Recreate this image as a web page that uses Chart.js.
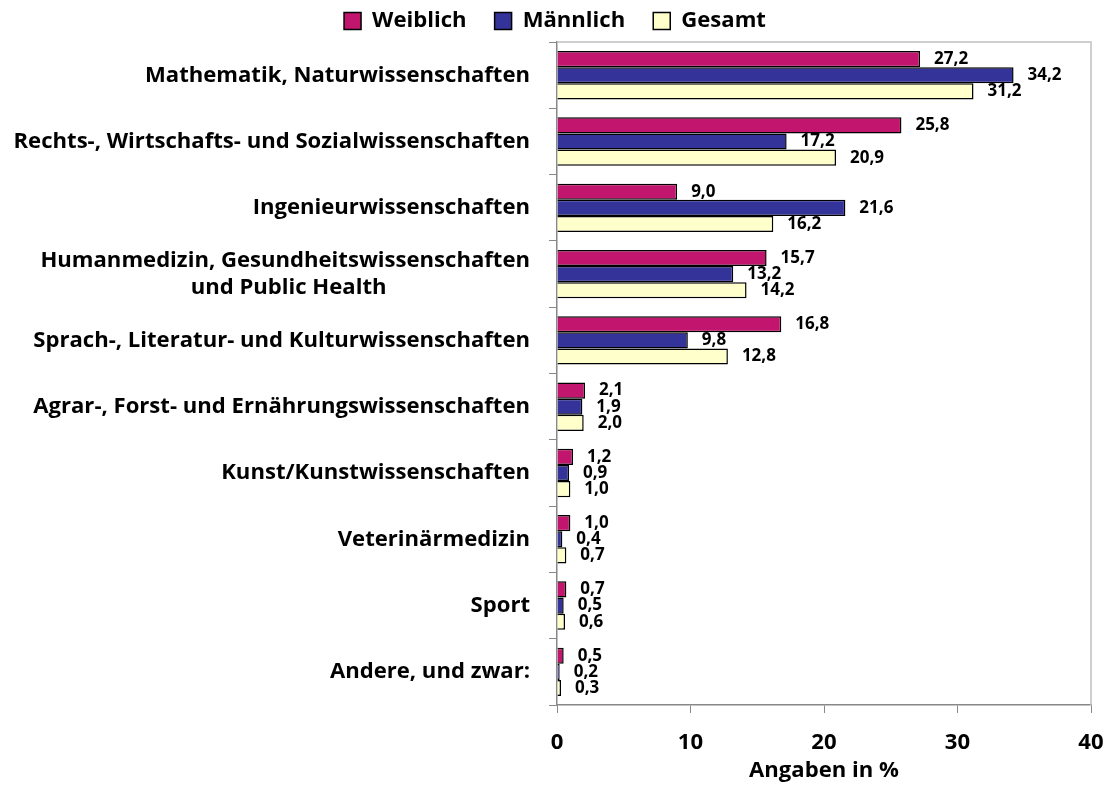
<!DOCTYPE html>
<html>
<head>
<meta charset="utf-8">
<script src="https://cdn.jsdelivr.net/npm/chart.js@4.4.0/dist/chart.umd.min.js"></script>
<style>
  body { margin: 0; background: #fff; }
  #wrap { width: 1110px; height: 785px; }
</style>
</head>
<body>
<div id="wrap"><canvas id="studien-chart" width="1110" height="785"></canvas></div>
<script>
const fontFamily = '"Open Sans"';

const categories = [
  'Mathematik, Naturwissenschaften',
  'Rechts-, Wirtschafts- und Sozialwissenschaften',
  'Ingenieurwissenschaften',
  ['Humanmedizin, Gesundheitswissenschaften', 'und Public Health'],
  'Sprach-, Literatur- und Kulturwissenschaften',
  'Agrar-, Forst- und Ernährungswissenschaften',
  'Kunst/Kunstwissenschaften',
  'Veterinärmedizin',
  'Sport',
  'Andere, und zwar:'
];
const weiblich = [27.2, 25.8, 9.0, 15.7, 16.8, 2.1, 1.2, 1.0, 0.7, 0.5];
const maennlich = [34.2, 17.2, 21.6, 13.2, 9.8, 1.9, 0.9, 0.4, 0.5, 0.2];
const gesamt = [31.2, 20.9, 16.2, 14.2, 12.8, 2.0, 1.0, 0.7, 0.6, 0.3];
const xTicks = [0, 10, 20, 30, 40];

// pick a font size so the longest category label is about as wide as in the original
const measureCtx = document.createElement('canvas').getContext('2d');
measureCtx.font = 'bold 20px ' + fontFamily;
const longW = measureCtx.measureText(categories[1]).width;
const fs = Math.round(20 * 517 / longW * 10) / 10;
measureCtx.font = 'bold ' + fs + 'px ' + fontFamily;

// center the second line of a two-line label under the first one
const labels = categories.map(function (c) {
  if (!Array.isArray(c)) return c;
  const w1 = measureCtx.measureText(c[0]).width;
  const target = w1 - (w1 - measureCtx.measureText(c[1]).width) / 2;
  let second = c[1];
  while (measureCtx.measureText(second + ' ').width <= target) {
    second += ' ';
  }
  return [c[0], second];
});

const valueLabels = {
  id: 'valueLabels',
  afterDatasetsDraw(chart) {
    const ctx = chart.ctx;
    ctx.save();
    ctx.font = 'bold 17px ' + fontFamily;
    ctx.fillStyle = '#000';
    ctx.textAlign = 'left';
    ctx.textBaseline = 'middle';
    chart.data.datasets.forEach(function (ds, i) {
      chart.getDatasetMeta(i).data.forEach(function (bar, j) {
        ctx.fillText(ds.data[j].toFixed(1).replace('.', ','), bar.x + 14, bar.y);
      });
    });
    ctx.restore();
  }
};

const plotFrame = {
  id: 'plotFrame',
  beforeDatasetsDraw(chart) {
    const a = chart.chartArea;
    const ctx = chart.ctx;
    ctx.save();
    ctx.strokeStyle = '#c0c0c0';
    ctx.lineWidth = 1.5;
    ctx.beginPath();
    ctx.moveTo(a.left, a.top);
    ctx.lineTo(a.right, a.top);
    ctx.lineTo(a.right, a.bottom);
    ctx.stroke();
    ctx.restore();
  }
};

const data = {
  labels: labels,
  datasets: [{
    label: 'Weiblich',
    data: weiblich,
    backgroundColor: '#c2166e',
    borderColor: '#000',
    borderWidth: 1.5
  }, {
    label: 'Männlich',
    data: maennlich,
    backgroundColor: '#333399',
    borderColor: '#000',
    borderWidth: 1.5
  }, {
    label: 'Gesamt',
    data: gesamt,
    backgroundColor: '#ffffcc',
    borderColor: '#000',
    borderWidth: 1.5
  }]
};

const config = {
  type: 'bar',
  data: data,
  plugins: [plotFrame, valueLabels],
  options: {
    indexAxis: 'y',
    responsive: false,
    animation: false,
    categoryPercentage: 0.73,
    barPercentage: 1,
    layout: { padding: { left: 0, right: 0, top: -18, bottom: 0 } },
    plugins: {
      tooltip: { enabled: false },
      legend: {
        position: 'top',
        labels: {
          color: '#000',
          font: { family: fontFamily, size: fs, weight: 'bold' },
          boxWidth: 17,
          boxHeight: 17,
          padding: 28
        }
      }
    },
    scales: {
      x: {
        min: 0,
        max: 40,
        afterBuildTicks(scale) { scale.ticks = xTicks.map(v => ({ value: v })); },
        afterFit(scale) {
          scale.height = 80;
          scale.paddingLeft = 0;
          scale.paddingRight = 19;
        },
        grid: { drawOnChartArea: false, drawTicks: true, tickLength: 8, color: '#888' },
        border: { color: '#888', width: 1.5 },
        ticks: { color: '#000', padding: 16, font: { family: fontFamily, size: fs, weight: 'bold' } },
        title: {
          display: true,
          text: 'Angaben in %',
          color: '#000',
          padding: { top: 0, bottom: 1 },
          font: { family: fontFamily, size: fs, weight: 'bold' }
        }
      },
      y: {
        afterFit(scale) { scale.width = 557; },
        grid: { drawOnChartArea: false, drawTicks: true, tickLength: 8, color: '#888', offset: true },
        border: { color: '#888', width: 1.5 },
        ticks: { color: '#000', padding: 19, font: { family: fontFamily, size: fs, weight: 'bold' } }
      }
    }
  }
};

let chartObj = document.getElementById('studien-chart');
let studienChart = new Chart(chartObj, config);
</script>
</body>
</html>
